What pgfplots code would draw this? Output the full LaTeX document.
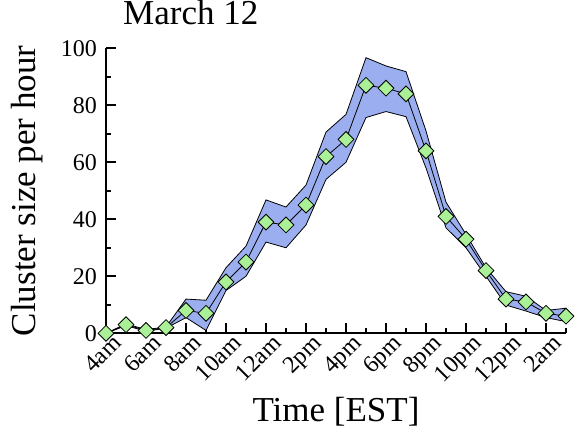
\documentclass[border=0pt]{standalone}
\usepackage{pgfplots}
\pgfplotsset{compat=1.18}
\usepackage{pgfplotstable}
\usepgfplotslibrary{fillbetween}
\usepackage{fontspec}
\setmainfont{Liberation Serif}

\definecolor{bandblue}{RGB}{155,175,240}
\definecolor{mkgreen}{RGB}{170,240,150}

% hour index (0 = 4am), mean, upper, lower
\pgfplotstableread{
x  val  up    lo
0  0    0     0
1  3    3.3   2.7
2  1    1.3   0.7
3  2    2.2   1.8
4  8    12    5.5
5  7    11.6  1
6  18   23    15
7  25   30.6  20
8  39   46.8  32
9  38   44.3  30
10 45   52    38
11 62   70.6  54
12 68   76.8  60
13 87   96.7  75.7
14 86   93.8  77.8
15 84   91.8  76
16 64   71    58
17 41   46    37
18 33   34.7  30
19 22   23    20
20 12   14.6  9.9
21 11   13    7.8
22 7    8     5.5
23 6    8.8   4.1
}\clusters

\begin{document}
\begin{tikzpicture}
\begin{axis}[
    scale only axis, width=460pt, height=285pt,
    xmin=0, xmax=23, ymin=0, ymax=100,
    axis lines=left,
    axis line style={line width=2.4pt, -},
    tick align=inside,
    major tick length=10pt, minor tick length=5pt,
    tick style={line width=2.2pt, black},
    xtick={0,2,...,22},
    xticklabels={4am,6am,8am,10am,12am,2pm,4pm,6pm,8pm,10pm,12pm,2am},
    minor xtick={1,3,...,23},
    ytick={0,20,...,100},
    minor ytick={10,30,...,90},
    xticklabel style={rotate=45, anchor=north east, inner sep=1pt, xshift=5pt, yshift=-2.5pt},
    yticklabel style={inner sep=2pt, xshift=-7pt},
    tick label style={font=\fontsize{24}{26}\selectfont},
    /pgf/number format/assume math mode=true,
    xlabel={Time [EST]},
    ylabel={Cluster size per hour},
    xlabel style={font=\fontsize{35}{38}\selectfont, at={([yshift=-88pt]axis description cs:0.5,0)}, anchor=base},
    ylabel style={font=\fontsize{35}{38}\selectfont, at={([xshift=-70pt]axis description cs:0,0.5)}, anchor=base},
    title={March 12},
    title style={font=\fontsize{35}{38}\selectfont, at={([yshift=18pt]axis description cs:0.037,1)}, anchor=base west, inner sep=0pt},
    clip=false,
]
\addplot[draw=none, name path=up] table[x=x, y=up] {\clusters};
\addplot[draw=none, name path=lo] table[x=x, y=lo] {\clusters};
\addplot[fill=bandblue, draw=black, line width=0.8pt] fill between[of=up and lo];
\addplot[black, line width=0.8pt, mark=square*, mark size=5.6pt,
    mark options={rotate=45, fill=mkgreen, draw=black, line width=0.8pt}]
    table[x=x, y=val] {\clusters};
% page frame: same margins round the axis as the reference
\path ([xshift=-106pt, yshift=44pt]axis description cs:0,1)
    rectangle ([xshift=15pt, yshift=-98pt]axis description cs:1,0);
\end{axis}
\end{tikzpicture}
\end{document}
